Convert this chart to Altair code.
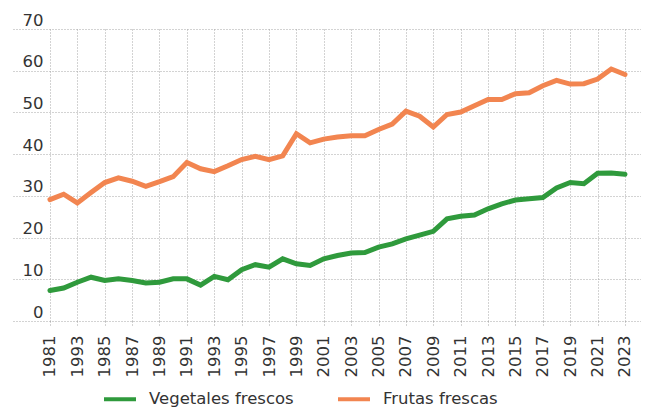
import altair as alt
import pandas as pd

years = list(range(1981, 2024))

vegetales = [7.3, 7.9, 9.3, 10.5, 9.7, 10.1, 9.7, 9.1, 9.3, 10.1, 10.1, 8.6, 10.7,
             9.9, 12.3, 13.5, 12.9, 14.9, 13.7, 13.3, 14.9, 15.7, 16.3, 16.4, 17.7,
             18.5, 19.7, 20.6, 21.5, 24.5, 25.1, 25.4, 26.9, 28.1, 29.0, 29.3, 29.6,
             31.9, 33.2, 32.9, 35.4, 35.5, 35.2]

frutas = [29.1, 30.4, 28.3, 30.8, 33.2, 34.3, 33.5, 32.3, 33.4, 34.6, 38.0, 36.5, 35.8,
          37.2, 38.7, 39.5, 38.7, 39.6, 44.9, 42.7, 43.6, 44.1, 44.4, 44.4, 45.9,
          47.2, 50.3, 49.1, 46.5, 49.5, 50.1, 51.6, 53.1, 53.1, 54.5, 54.7, 56.4,
          57.7, 56.8, 56.9, 58.0, 60.4, 59.1]

series_names = ["Vegetales frescos", "Frutas frescas"]
series_colors = ["#2f9a3c", "#f28550"]

tick_values = list(range(1981, 2024, 2))
tick_labels = ["1981", "1993", "1985", "1987", "1989", "1991", "1993", "1995", "1997",
               "1999", "2001", "2003", "2005", "2007", "2009", "2011", "2013", "2015",
               "2017", "2019", "2021", "2023"]

y_ticks = [0, 10, 20, 30, 40, 50, 60, 70]

df = pd.concat([
    pd.DataFrame({"year": years, "value": vegetales, "serie": series_names[0]}),
    pd.DataFrame({"year": years, "value": frutas, "serie": series_names[1]}),
])

label_expr = "[" + ",".join("'%s'" % t for t in tick_labels) + "][round((datum.value-1981)/2)]"

FONT = "DejaVu Sans"
GRID = "#a6a6a6"

chart = alt.Chart(df).mark_line(strokeWidth=5, strokeCap="round").encode(
    x=alt.X("year:Q",
            scale=alt.Scale(domain=[1978.3, 2024.17], nice=False, zero=False),
            axis=alt.Axis(values=tick_values, labelExpr=label_expr, labelAngle=270,
                          title=None, domain=False, ticks=True, tickSize=6,
                          tickColor=GRID, tickDash=[1, 2], tickWidth=1,
                          labelPadding=8, labelFontSize=16.5, labelFont=FONT,
                          labelColor="#333333", grid=True, gridColor=GRID,
                          gridDash=[1, 2], gridWidth=1)),
    y=alt.Y("value:Q",
            scale=alt.Scale(domain=[0, 70], nice=False),
            axis=alt.Axis(values=y_ticks, title=None, domain=False, ticks=True,
                          tickSize=0, labelAlign="right", labelPadding=-30,
                          labelBaseline="alphabetic", labelOffset=-4,
                          labelFontSize=16.5, labelFont=FONT, labelColor="#333333",
                          grid=True, gridColor=GRID, gridDash=[1, 2], gridWidth=1)),
    color=alt.Color("serie:N",
                    scale=alt.Scale(domain=series_names, range=series_colors),
                    sort=series_names,
                    legend=alt.Legend(title=None, orient="none", direction="horizontal",
                                      legendX=89, legendY=352,
                                      symbolType="stroke", symbolSize=1024,
                                      symbolStrokeWidth=4, labelFontSize=16.5,
                                      labelFont=FONT, labelColor="#333333",
                                      labelOffset=11, columnPadding=36)),
).properties(
    width=628,
    height=292,
    padding={"left": 5, "top": 21, "right": 0, "bottom": 87},
    autosize=alt.AutoSizeParams(type="none"),
).configure_view(stroke=None)

chart.save("out.html", embed_options={"renderer": "svg", "actions": False})
